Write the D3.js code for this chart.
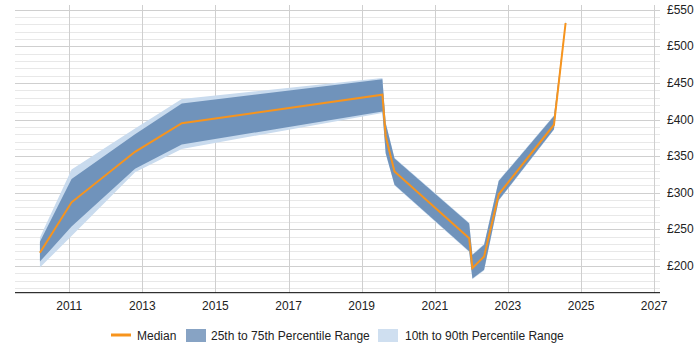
<!DOCTYPE html>
<html>
<head>
<meta charset="utf-8">
<script src="https://cdn.jsdelivr.net/npm/d3@7"></script>
<style>
  body { margin: 0; background: #fff; }
  svg text { font-family: "Liberation Sans", Arial, sans-serif; font-size: 12px; fill: #222; }
</style>
</head>
<body>
<div id="chart"></div>
<script>
// values
const dates  = ["2010-03-15", "2011-01-25", "2012-10-20", "2014-01-30", "2019-07-27", "2019-08-29",
                "2019-11-25", "2021-12-10", "2022-01-11", "2022-05-08", "2022-10-01", "2024-04-05", "2024-07-30"];
const median = [218, 287, 356, 395, 434, 377, 329, 238, 197, 213, 298, 393, 532];
const p25    = [206, 254, 333, 366, 411, 354, 311, 220, 183, 195, 290, 387, 530];
const p75    = [233, 319, 380, 422, 455, 395, 347, 258, 215, 229, 316, 405, 534];
const p10    = [198, 241, 328, 360, 409, 353, 310, 219, 182, 194, 289, 386, 529];
const p90    = [239, 332, 388, 428, 457, 396, 348, 259, 216, 230, 317, 406, 536];
const xTickYears = [2011, 2013, 2015, 2017, 2019, 2021, 2023, 2025, 2027];
const yTicks = [200, 250, 300, 350, 400, 450, 500, 550];
const legendItems = ["Median", "25th to 75th Percentile Range", "10th to 90th Percentile Range"];

const width = 700, height = 350;
const plot = { left: 15, right: 660, top: 5, bottom: 292.7 };
const colors = { median: "#f7941d", mid: "#7093bb", wide: "#c9dbee", midKey: "#87a3c4", wideKey: "#cfdff0" };

const parse = d3.timeParse("%Y-%m-%d");
const rows = dates.map((d, i) => ({
    date: parse(d), median: median[i], p25: p25[i], p75: p75[i], p10: p10[i], p90: p90[i]
}));

const x = d3.scaleTime()
    .domain([new Date(2009, 6, 9), new Date(2027, 1, 28)])
    .range([plot.left, plot.right]);
const y = d3.scaleLinear()
    .domain([163.5, 556.6])
    .range([plot.bottom, plot.top]);

const svg = d3.select("#chart").append("svg")
    .attr("width", width)
    .attr("height", height);

// horizontal grid: minor every 10, major every 50
const grid = svg.append("g");
const minor = d3.range(170, 551, 10);
grid.selectAll("line.h")
    .data(minor)
    .join("line")
    .attr("x1", plot.left).attr("x2", plot.right)
    .attr("y1", d => Math.round(y(d)) + 0.5)
    .attr("y2", d => Math.round(y(d)) + 0.5)
    .attr("stroke", d => d % 50 === 0 ? "#cfcfcf" : "#e8e8e8")
    .attr("stroke-width", 1);

grid.selectAll("line.v")
    .data(xTickYears)
    .join("line")
    .attr("x1", d => Math.round(x(new Date(d, 0, 1))) + 0.5)
    .attr("x2", d => Math.round(x(new Date(d, 0, 1))) + 0.5)
    .attr("y1", plot.top).attr("y2", plot.bottom)
    .attr("stroke", "#cfcfcf");

// bands and median
const wideArea = d3.area().x(d => x(d.date)).y0(d => y(d.p10)).y1(d => y(d.p90));
const midArea = d3.area().x(d => x(d.date)).y0(d => y(d.p25)).y1(d => y(d.p75));
const medLine = d3.line().x(d => x(d.date)).y(d => y(d.median));

svg.append("path").datum(rows).attr("d", wideArea).attr("fill", colors.wide);
svg.append("path").datum(rows).attr("d", midArea).attr("fill", colors.mid);
svg.append("path").datum(rows).attr("d", medLine)
    .attr("fill", "none").attr("stroke", colors.median).attr("stroke-width", 2);

// x axis
svg.append("line")
    .attr("x1", plot.left).attr("x2", plot.right)
    .attr("y1", plot.bottom).attr("y2", plot.bottom)
    .attr("stroke", "#000");

svg.append("g").selectAll("text")
    .data(xTickYears)
    .join("text")
    .attr("x", d => x(new Date(d, 0, 1)))
    .attr("y", 309.5)
    .attr("text-anchor", "middle")
    .text(d => d);

// y labels on the right
svg.append("g").selectAll("text")
    .data(yTicks)
    .join("text")
    .attr("x", 667)
    .attr("y", d => y(d) + 4)
    .text(d => "£" + d);

// legend
const legend = svg.append("g");
legend.append("line")
    .attr("x1", 111).attr("x2", 131).attr("y1", 335).attr("y2", 335)
    .attr("stroke", colors.median).attr("stroke-width", 3);
legend.append("text").attr("x", 137).attr("y", 339.5).text(legendItems[0]);
legend.append("rect")
    .attr("x", 186).attr("y", 329).attr("width", 20).attr("height", 13)
    .attr("fill", colors.midKey);
legend.append("text").attr("x", 211).attr("y", 339.5).text(legendItems[1]);
legend.append("rect")
    .attr("x", 378).attr("y", 329).attr("width", 20).attr("height", 13)
    .attr("fill", colors.wideKey);
legend.append("text").attr("x", 405).attr("y", 339.5).text(legendItems[2]);
</script>
</body>
</html>
